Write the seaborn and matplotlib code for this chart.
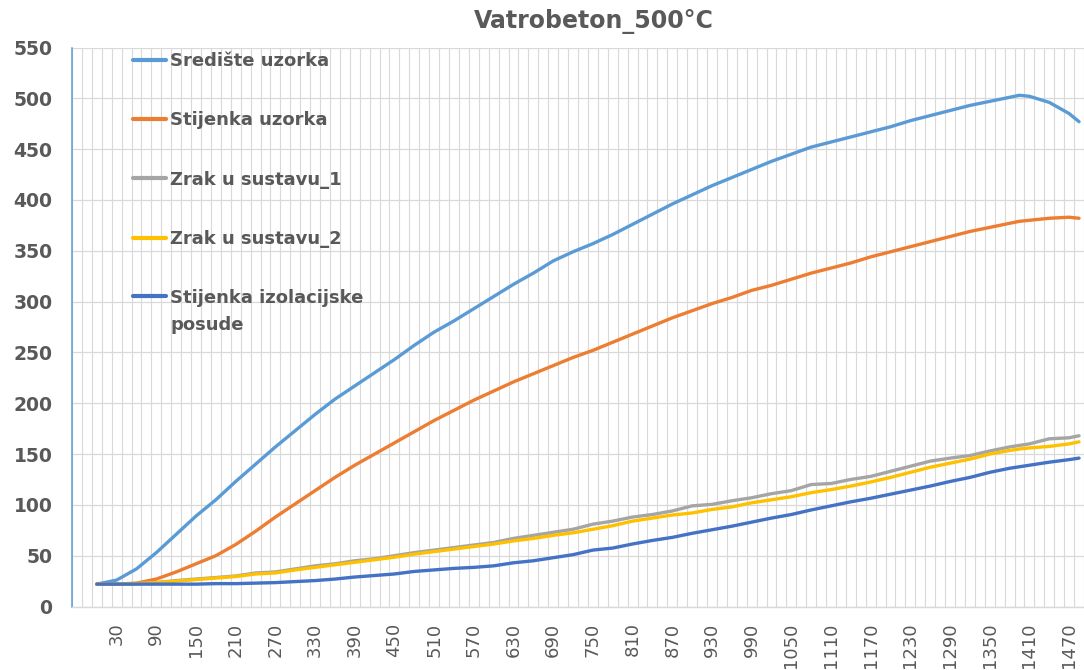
import numpy as np
import pandas as pd
import seaborn as sns
import matplotlib.pyplot as plt
from matplotlib.ticker import MultipleLocator
from matplotlib.legend_handler import HandlerLine2D

# %% Data
time = [0, 30, 60, 90, 120, 150, 180, 210, 240, 270, 300, 330, 360, 390, 420, 450,
        480, 510, 540, 570, 600, 630, 660, 690, 720, 750, 780, 810, 840, 870, 900,
        930, 960, 990, 1020, 1050, 1080, 1110, 1140, 1170, 1200, 1230, 1260, 1290,
        1320, 1350, 1380, 1395, 1410, 1440, 1470, 1485]

srediste_uzorka = [22, 26, 37, 53, 71, 89, 105, 123, 140, 157, 173, 189, 204, 217, 230, 243,
                   257, 270, 281, 293, 305, 317, 328, 340, 349, 357, 366, 376, 386, 396, 405,
                   414, 422, 430, 438, 445, 452, 457, 462, 467, 472, 478, 483, 488,
                   493, 497, 501, 503, 502, 496, 485, 477]

stijenka_uzorka = [22, 22, 23, 27, 34, 42, 50, 61, 74, 88, 101, 114, 127, 139, 150, 161,
                   172, 183, 193, 203, 212, 221, 229, 237, 245, 252, 260, 268, 276, 284, 291,
                   298, 304, 311, 316, 322, 328, 333, 338, 344, 349, 354, 359, 364,
                   369, 373, 377, 379, 380, 382, 383, 382]

zrak_1 = [22, 22, 22.5, 23.5, 25.5, 27, 28.5, 30, 33, 34, 37, 40, 42, 45, 47, 50,
          53, 55.5, 58, 60.5, 63, 67, 70, 73, 76, 81, 84, 88, 90.5, 94, 99,
          100.5, 104, 107, 111, 114, 120, 121, 125, 128, 133, 138, 143, 146,
          148.5, 153, 157, 158.5, 160, 165, 166, 168]

zrak_2 = [22, 22, 22.5, 23.5, 25, 26.5, 28, 29.5, 32, 33, 36, 38.5, 41, 43.5, 46, 48.5,
          51.5, 54, 56.5, 59, 61.5, 64.5, 67, 70, 72.5, 76, 79.5, 84, 87, 90, 92,
          95.5, 98, 102, 105, 108, 112, 115, 118.5, 122.5, 127, 132, 137, 141,
          145, 150, 153.5, 155, 156, 157.5, 160, 162]

stijenka_posude = [22, 22, 22, 22, 22, 22, 22.5, 22.5, 23, 23.5, 24.5, 25.5, 27, 29, 30.5, 32,
                   34.5, 36, 37.5, 38.5, 40, 43, 45, 48, 51, 55.5, 57.5, 61.5, 65, 68, 72,
                   75.5, 79, 83, 87, 90.5, 95, 99, 103, 106.5, 110.5, 114.5, 118.5, 123,
                   127, 132, 136, 137.5, 139, 142, 144.5, 146]

series_names = ['Središte uzorka', 'Stijenka uzorka', 'Zrak u sustavu_1',
                'Zrak u sustavu_2', 'Stijenka izolacijske\nposude']
series_colors = ['#5B9BD5', '#ED7D31', '#A5A5A5', '#FFC000', '#4472C4']
x_labels = list(range(30, 1471, 60))

# %% Long format for seaborn
frames = []
for name, vals in zip(series_names, [srediste_uzorka, stijenka_uzorka, zrak_1, zrak_2, stijenka_posude]):
    frames.append(pd.DataFrame({'time': time, 'temp': vals, 'serija': name}))
df = pd.concat(frames, ignore_index=True)


# legend handle that sits on the first line of a two-line label
class FirstLineHandler(HandlerLine2D):
    def __init__(self, shift, **kw):
        super().__init__(**kw)
        self.shift = shift

    def create_artists(self, legend, orig_handle, xdescent, ydescent, width, height,
                       fontsize, trans):
        arts = super().create_artists(legend, orig_handle, xdescent, ydescent, width,
                                      height, fontsize, trans)
        for a in arts:
            a.set_ydata(np.asarray(a.get_ydata()) + self.shift)
        return arts


# %% Plot
sns.set_style('white')
plt.rcParams['font.family'] = ['DejaVu Sans']
text_col = '#595959'
grid_col = '#D9D9D9'

fig = plt.figure(figsize=(10.84, 6.70), dpi=100)
ax = fig.add_axes([72 / 1084, 63.5 / 670, 1012 / 1084, 559 / 670])

sns.lineplot(
    data=df, x='time', y='temp', hue='serija',
    hue_order=series_names,
    palette=dict(zip(series_names, series_colors)),
    linewidth=2.4, ax=ax, legend=True,
)

ax.set_xlim(-37.5, 1492.5)
ax.set_ylim(0, 550)
ax.set_xlabel('')
ax.set_ylabel('')

# x axis: labels every 60, gridlines between categories (every 15)
ax.set_xticks(x_labels)
ax.set_xticklabels([str(v) for v in x_labels], rotation=90, fontsize=13, color=text_col)
ax.set_xticks(np.arange(-37.5, 1493, 15), minor=True)
ax.tick_params(axis='x', which='both', length=0, pad=11.5)

# y axis
ax.yaxis.set_major_locator(MultipleLocator(50))
ax.yaxis.set_minor_locator(MultipleLocator(20))
ax.tick_params(axis='y', which='major', direction='out', length=5, width=1,
               color='#5B9BD5', labelsize=13.5, labelcolor=text_col, pad=9)
ax.tick_params(axis='y', which='minor', direction='in', length=5, width=1, color='#5B9BD5')
for lab in ax.get_yticklabels():
    lab.set_fontweight('bold')

ax.grid(which='minor', axis='x', color=grid_col, linewidth=0.8)
ax.grid(which='major', axis='y', color=grid_col, linewidth=0.9)
ax.grid(which='major', axis='x', visible=False)
ax.set_axisbelow(True)
ygl = ax.get_ygridlines()
ygl[-1].set_visible(False)

for s in ['top', 'right']:
    ax.spines[s].set_visible(False)
ax.spines['left'].set_color('#5B9BD5')
ax.spines['left'].set_linewidth(1.1)
ax.spines['bottom'].set_color(grid_col)
ax.spines['bottom'].set_linewidth(1.0)

handles, labels = ax.get_legend_handles_labels()
leg = ax.legend(
    handles, labels,
    loc='upper left', bbox_to_anchor=(133 / 1084, 1 - 52 / 670),
    bbox_transform=fig.transFigure, frameon=False,
    fontsize=13, labelspacing=2.29, handlelength=1.85, handletextpad=0.2,
    borderpad=0, borderaxespad=0,
    handler_map={handles[-1]: FirstLineHandler(shift=12)},
)
for t in leg.get_texts():
    t.set_color(text_col)
    t.set_fontweight('bold')
    t.set_linespacing(1.65)
for h in leg.get_lines():
    h.set_linewidth(3)

fig.text(594 / 1084, 1 - 22 / 670, 'Vatrobeton_500°C', ha='center', va='center',
         fontsize=17, fontweight='bold', color=text_col)

fig.savefig('out.png', dpi=100)
